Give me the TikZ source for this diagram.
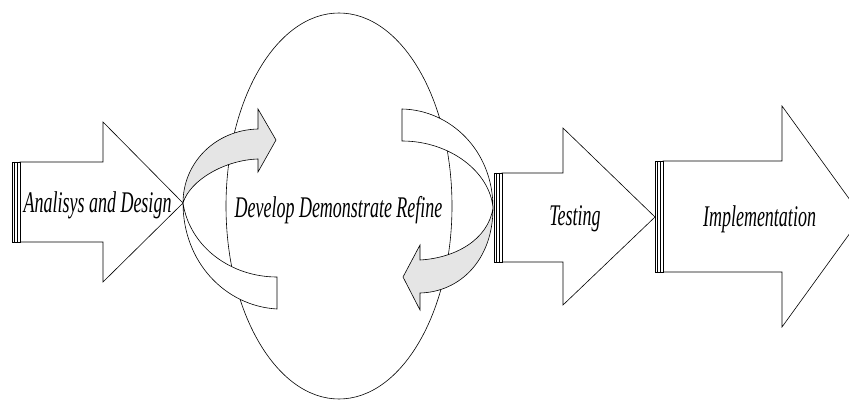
\documentclass[tikz,border=0pt]{standalone}
\usepackage{fontspec}
\setmainfont{Liberation Serif}
\begin{document}
\begin{tikzpicture}[x=1pt,y=-1pt,
  outl/.style={draw=black,line width=0.6pt,line join=miter},
  bandgray/.style={outl,fill=gray!20},
  bandwhite/.style={outl,fill=white},
  lbl/.style={anchor=base,inner sep=0pt,font=\itshape\fontsize{30}{30}\selectfont}]
\useasboundingbox (0,0) rectangle (849,401);
\clip (0,0) rectangle (849,401);

% big ellipse
\draw[outl] (339,206) ellipse [x radius=113, y radius=193];

% left curved band: white lower part
\path[bandwhite] (183,203) .. controls (183,262) and (225,306) .. (277,309)
  -- (277,277) .. controls (232,277) and (190,248) .. (183,203) -- cycle;
% left curved band: gray upper part with head
\path[bandgray] (183,203) .. controls (183,163) and (215,130) .. (258,129)
  -- (258,109) -- (276,140) -- (258,172) -- (258,159)
  .. controls (225,160) and (190,180) .. (183,203) -- cycle;

% right curved band: white upper part
\path[bandwhite] (402,109) .. controls (450,110) and (493,150) .. (493,208)
  .. controls (490,172) and (450,141) .. (402,141) -- cycle;
% right curved band: gray lower part with head
\path[bandgray] (493,208) .. controls (493,260) and (460,292) .. (420,293)
  -- (420,310) -- (403,277) -- (420,245) -- (420,260)
  .. controls (455,258) and (488,240) .. (493,208) -- cycle;

% Analysis arrow
\path[bandwhite] (20,162) -- (103,162) -- (103,122) -- (183,203) -- (103,282) -- (103,242) -- (20,242) -- cycle;
\draw[outl,fill=white] (12,162) rectangle (20,242);
\draw[outl] (14.7,162) -- (14.7,242) (17.3,162) -- (17.3,242);

% Testing arrow
\path[bandwhite] (502,173) -- (563,173) -- (563,128) -- (655,217) -- (563,305) -- (563,262) -- (502,262) -- cycle;
\draw[outl,fill=white] (494,173) rectangle (502,262);
\draw[outl] (496.7,173) -- (496.7,262) (499.3,173) -- (499.3,262);

% Implementation arrow
\path[bandwhite] (663,161) -- (782,161) -- (782,106) -- (862,216.5) -- (782,327) -- (782,272) -- (663,272) -- cycle;
\draw[outl,fill=white] (655,161) rectangle (663,272);
\draw[outl] (657.7,161) -- (657.7,272) (660.3,161) -- (660.3,272);

% labels
\node[lbl] (ad) at (97.5,212) {\scalebox{0.6}[1]{Analisys and Design}};
\node[lbl] (ddr) at (338.5,218) {\scalebox{0.6}[1]{Develop Demonstrate Refine}};
\node[lbl] (te) at (575,225) {\scalebox{0.6}[1]{Testing}};
\node[lbl] (im) at (759.5,226) {\scalebox{0.6}[1]{Implementation}};
\end{tikzpicture}
\end{document}
